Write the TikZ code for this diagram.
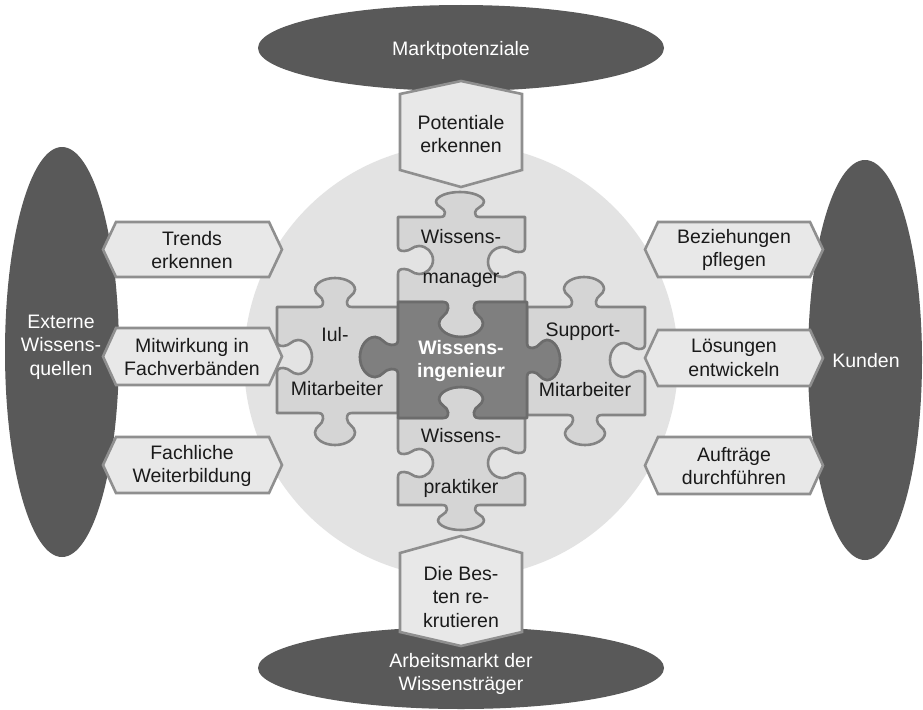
\documentclass[tikz,border=0pt]{standalone}
\usepackage{fontspec}
\setmainfont{Liberation Sans}

% horizontal hexagon: left x, right x, top y, bottom y
\newcommand\hhexpath[4]{(#1,{(#3+#4)/2}) -- ({#1+13},#3) -- ({#2-13},#3) -- (#2,{(#3+#4)/2}) -- ({#2-13},#4) -- ({#1+13},#4) -- cycle}
% vertical hexagon: left x, right x, top apex, top corners, bottom corners, bottom apex
\newcommand\vhexpath[6]{({(#1+#2)/2},#3) -- (#2,#4) -- (#2,#5) -- ({(#1+#2)/2},#6) -- (#1,#5) -- (#1,#4) -- cycle}

% puzzle tab on a horizontal edge:
% centre x, edge y, travel direction (+1/-1), signed depth in y, head half width, neck half width
\newcommand\hknob[6]{%
 -- ({#1-(#3)*((#6)+5)},{#2})
 .. controls ({#1-(#3)*((#6)+1)},{#2}) and ({#1-(#3)*(#6)},{#2+0.06*(#4)}) .. ({#1-(#3)*(#6)},{#2+0.18*(#4)})
 .. controls ({#1-(#3)*(#6)},{#2+0.36*(#4)}) and ({#1-(#3)*(#5)},{#2+0.42*(#4)}) .. ({#1-(#3)*(#5)},{#2+0.6*(#4)})
 .. controls ({#1-(#3)*(#5)},{#2+0.82*(#4)}) and ({#1-(#3)*0.55*(#5)},{#2+(#4)}) .. ({#1},{#2+(#4)})
 .. controls ({#1+(#3)*0.55*(#5)},{#2+(#4)}) and ({#1+(#3)*(#5)},{#2+0.82*(#4)}) .. ({#1+(#3)*(#5)},{#2+0.6*(#4)})
 .. controls ({#1+(#3)*(#5)},{#2+0.42*(#4)}) and ({#1+(#3)*(#6)},{#2+0.36*(#4)}) .. ({#1+(#3)*(#6)},{#2+0.18*(#4)})
 .. controls ({#1+(#3)*(#6)},{#2+0.06*(#4)}) and ({#1+(#3)*((#6)+1)},{#2}) .. ({#1+(#3)*((#6)+5)},{#2})
}
% puzzle tab on a vertical edge:
% edge x, centre y, travel direction (+1/-1), signed depth in x, head half width, neck half width
\newcommand\vknob[6]{%
 -- ({#1},{#2-(#3)*((#6)+5)})
 .. controls ({#1},{#2-(#3)*((#6)+1)}) and ({#1+0.06*(#4)},{#2-(#3)*(#6)}) .. ({#1+0.18*(#4)},{#2-(#3)*(#6)})
 .. controls ({#1+0.36*(#4)},{#2-(#3)*(#6)}) and ({#1+0.42*(#4)},{#2-(#3)*(#5)}) .. ({#1+0.6*(#4)},{#2-(#3)*(#5)})
 .. controls ({#1+0.82*(#4)},{#2-(#3)*(#5)}) and ({#1+(#4)},{#2-(#3)*0.55*(#5)}) .. ({#1+(#4)},{#2})
 .. controls ({#1+(#4)},{#2+(#3)*0.55*(#5)}) and ({#1+0.82*(#4)},{#2+(#3)*(#5)}) .. ({#1+0.6*(#4)},{#2+(#3)*(#5)})
 .. controls ({#1+0.42*(#4)},{#2+(#3)*(#5)}) and ({#1+0.36*(#4)},{#2+(#3)*(#6)}) .. ({#1+0.18*(#4)},{#2+(#3)*(#6)})
 .. controls ({#1+0.06*(#4)},{#2+(#3)*(#6)}) and ({#1},{#2+(#3)*((#6)+1)}) .. ({#1},{#2+(#3)*((#6)+5)})
}

\definecolor{ellgray}{HTML}{595959}
\definecolor{discgray}{HTML}{E3E3E3}
\definecolor{hexfill}{HTML}{E8E8E8}
\definecolor{hexline}{HTML}{8F8F8F}
\definecolor{piecefill}{HTML}{D5D5D5}
\definecolor{pieceline}{HTML}{848484}
\definecolor{corefill}{HTML}{7F7F7F}
\definecolor{coreline}{HTML}{6C6C6C}
\definecolor{ink}{HTML}{1A1A1A}

\begin{document}
\begin{tikzpicture}[x=1pt,y=-1pt,
  txt/.style={font=\fontsize{19.5}{23.5}\selectfont, align=center, inner sep=0pt, text=ink},
  wtxt/.style={txt, text=white},
  ctxt/.style={txt, text=white, font=\fontsize{19.5}{23.5}\selectfont\bfseries},
  ell/.style={fill=ellgray, draw=none},
  hexbox/.style={fill=hexfill, draw=hexline, line width=2.6pt, line join=miter},
  piece/.style={fill=piecefill, draw=pieceline, line width=2.6pt, line join=round},
  core/.style={fill=corefill, draw=coreline, line width=2.6pt, line join=round}]

\useasboundingbox (0,0) rectangle (923,709);
\fill[white] (0,0) rectangle (923,709);

% central disc
\fill[discgray] (461,361) circle [radius=217];

% outer ellipses
\fill[ell] (461,48) ellipse [x radius=203, y radius=43];
\fill[ell] (461,668) ellipse [x radius=203, y radius=41];
\fill[ell] (62,352) ellipse [x radius=57, y radius=205];
\fill[ell] (865,360) ellipse [x radius=57, y radius=200];

\node[wtxt] (markt) at (461,50) {Marktpotenziale};
\node[wtxt] (arbeit) at (461,674) {Arbeitsmarkt der\\Wissensträger};
\node[wtxt] (extern) at (61,347) {Externe\\Wissens-\\quellen};
\node[wtxt] (kunden) at (866,361) {Kunden};

% activity boxes
\draw[hexbox] \vhexpath{400}{522}{81}{94}{170}{187};
\draw[hexbox] \vhexpath{400}{522}{536}{553}{632}{646};
\draw[hexbox] \hhexpath{103}{282}{222}{277};
\draw[hexbox] \hhexpath{103}{282}{328}{385};
\draw[hexbox] \hhexpath{103}{282}{437}{493};
\draw[hexbox] \hhexpath{645}{823}{222}{277};
\draw[hexbox] \hhexpath{645}{823}{330}{386};
\draw[hexbox] \hhexpath{645}{823}{437}{494};

\node[txt] (potent) at (461,134) {Potentiale\\erkennen};
\node[txt] (besten) at (461,597) {Die Bes-\\ten re-\\krutieren};
\node[txt] (trends) at (192,250) {Trends\\erkennen};
\node[txt] (mitwirk) at (192,357) {Mitwirkung in\\Fachverbänden};
\node[txt] (weiter) at (192,466) {Fachliche\\Weiterbildung};
\node[txt] (bezieh) at (734,250) {Beziehungen\\pflegen};
\node[txt] (loesung) at (734,358) {Lösungen\\entwickeln};
\node[txt] (auftrag) at (734,466) {Aufträge\\durchführen};

% puzzle pieces
\draw[piece] (398,217) \hknob{460}{217}{1}{-25}{24}{15} -- (525,217)
  \vknob{525}{262}{1}{-37}{15}{10} -- (525,302)
  \hknob{461}{302}{-1}{35}{22}{13} -- (398,302)
  \vknob{398}{260}{-1}{35}{14}{9} -- cycle;
\draw[piece] (398,418) \hknob{461}{418}{1}{-31}{22}{13} -- (525,418)
  \vknob{525}{463}{1}{-37}{15}{10} -- (525,505)
  \hknob{461}{505}{-1}{25}{23}{14} -- (398,505)
  \vknob{398}{463}{-1}{35}{14}{9} -- cycle;
\draw[piece] (277,307) \hknob{335}{307}{1}{-29}{20}{12} -- (398,307)
  \vknob{398}{357}{1}{-38}{20}{12} -- (398,413)
  \hknob{335}{413}{-1}{32}{20}{12} -- (277,413)
  \vknob{277}{357}{-1}{35}{17}{11} -- cycle;
\draw[piece] (527,307) \hknob{584}{307}{1}{-30}{20}{12} -- (645,307)
  \vknob{645}{360}{1}{-35}{17}{11} -- (645,415)
  \hknob{585}{415}{-1}{30}{20}{12} -- (527,415)
  \vknob{527}{360}{-1}{33}{20}{12} -- cycle;
\draw[core] (398,302) \hknob{461}{302}{1}{35}{22}{13} -- (527,302)
  \vknob{527}{360}{1}{33}{20}{12} -- (527,418)
  \hknob{461}{418}{-1}{-31}{22}{13} -- (398,418)
  \vknob{398}{357}{-1}{-38}{20}{12} -- cycle;

\node[txt] (mgr1) at (461,237) {Wissens-};
\node[txt] (mgr2) at (461,280) {manager};
\node[txt] (iul1) at (335,335) {Iul-};
\node[txt] (iul2) at (337,389) {Mitarbeiter};
\node[txt] (sup1) at (583,332) {Support-};
\node[txt] (sup2) at (585,390) {Mitarbeiter};
\node[txt] (prk1) at (461,436) {Wissens-};
\node[txt] (prk2) at (461,488) {praktiker};
\node[ctxt] (core) at (461,361) {Wissens-\\ingenieur};
\end{tikzpicture}
\end{document}
